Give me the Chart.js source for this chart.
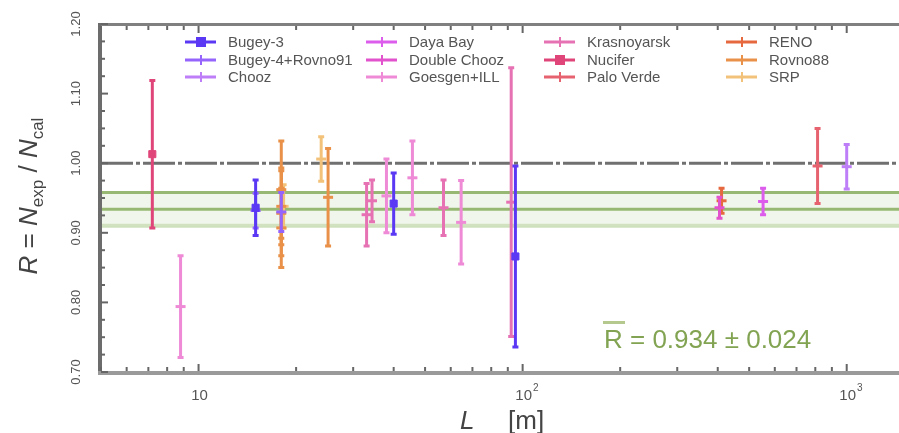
<!DOCTYPE html>
<html>
<head>
<meta charset="utf-8">
<script src="https://cdn.jsdelivr.net/npm/chart.js@4/dist/chart.umd.min.js"></script>
<style>
  html, body { margin: 0; padding: 0; background: #fff; }
</style>
</head>
<body>
<canvas id="myChart" width="899" height="433"></canvas>
<script>
// experiments in legend order (column by column)
var experiments = ["Bugey-3", "Bugey-4+Rovno91", "Chooz", "Daya Bay", "Double Chooz", "Goesgen+ILL",
  "Krasnoyarsk", "Nucifer", "Palo Verde", "RENO", "Rovno88", "SRP"];
var colors = ["#5a38f4", "#9464fc", "#bd7ef8", "#dc5cec", "#e252cc", "#ee8ad6",
  "#e672b4", "#e0457a", "#e6626e", "#e6683f", "#e99049", "#f3c27a"];
var markers = ["rect", "line", "line", "line", "line", "line",
  "line", "rect", "line", "line", "line", "line"];

// baseline L [m], ratio R and its error
var distances = [
  [15, 40, 95],
  [15, 18],
  [1000],
  [552],
  [405],
  [8.8, 38, 45.7, 64.6],
  [33, 34.3, 57, 92.2],
  [7.2],
  [813],
  [411],
  [18, 18, 18, 18, 25.1],
  [18.3, 23.9]
];
var ratios = [
  [0.936, 0.942, 0.866],
  [0.932, 0.930],
  [0.995],
  [0.945],
  [0.936],
  [0.794, 0.953, 0.979, 0.915],
  [0.926, 0.946, 0.936, 0.944],
  [1.013],
  [0.996],
  [0.946],
  [0.962, 0.938, 0.907, 0.928, 0.951],
  [0.938, 1.006]
];
var errors = [
  [0.040, 0.044, 0.130],
  [0.025, 0.028],
  [0.032],
  [0.019],
  [0.015],
  [0.073, 0.053, 0.053, 0.060],
  [0.045, 0.030, 0.040, 0.193],
  [0.106],
  [0.054],
  [0.018],
  [0.070, 0.055, 0.057, 0.061, 0.070],
  [0.031, 0.032]
];

var meanR = 0.934;
var meanErr = 0.024;
var refLine = 1.0;
var xMin = 5, xMax = 1450;
var yMin = 0.7, yMax = 1.2;
var yTickValues = [0.7, 0.8, 0.9, 1.0, 1.1, 1.2];
var yTickLabels = ["0.70", "0.80", "0.90", "1.00", "1.10", "1.20"];
var xTickValues = [10, 100, 1000];
var xTickBase = ["10", "10", "10"];
var xTickSup = ["", "2", "3"];

var datasets = [];
for (let i = 0; i < experiments.length; i++) {
  datasets.push({
    label: experiments[i],
    data: distances[i].map((d, j) => ({ x: d, y: ratios[i][j] })),
    errors: errors[i],
    borderColor: colors[i],
    backgroundColor: colors[i],
    pointStyle: markers[i],
    pointRadius: markers[i] == "rect" ? 5 : 5,
    pointBorderWidth: markers[i] == "rect" ? 1 : 3,
    showLine: false,
    order: 0
  });
}
// reference lines
datasets.push({
  label: "ref", data: [{ x: xMin, y: refLine }, { x: xMax, y: refLine }],
  showLine: true, pointRadius: 0, borderColor: "#707070", borderWidth: 3,
  borderDash: [32, 3, 4, 3], order: 5
});
datasets.push({
  label: "bandTop", data: [{ x: xMin, y: meanR + meanErr }, { x: xMax, y: meanR + meanErr }],
  showLine: true, pointRadius: 0, borderColor: "#96b873", borderWidth: 3,
  fill: "+1", backgroundColor: "rgba(214,228,200,0.35)", order: 6
});
datasets.push({
  label: "bandBottom", data: [{ x: xMin, y: meanR - meanErr }, { x: xMax, y: meanR - meanErr }],
  showLine: true, pointRadius: 0, borderColor: "#cfe0bd", borderWidth: 4, order: 7
});
datasets.push({
  label: "mean", data: [{ x: xMin, y: meanR }, { x: xMax, y: meanR }],
  showLine: true, pointRadius: 0, borderColor: "#96b873", borderWidth: 3, order: 4
});

// error bars drawn right before each experiment's markers
var errorBars = {
  id: "errorBars",
  beforeDatasetDraw(chart, args) {
    const ds = chart.data.datasets[args.index];
    if (!ds.errors) return;
    const ctx = chart.ctx, xs = chart.scales.x, ys = chart.scales.y;
    ctx.save();
    ctx.strokeStyle = ds.borderColor;
    ds.data.forEach((p, j) => {
      const px = xs.getPixelForValue(p.x);
      const top = ys.getPixelForValue(p.y + ds.errors[j]);
      const bot = ys.getPixelForValue(p.y - ds.errors[j]);
      ctx.lineWidth = 3;
      ctx.beginPath();
      ctx.moveTo(px, top);
      ctx.lineTo(px, bot);
      ctx.stroke();
      ctx.beginPath();
      ctx.moveTo(px - 3, top); ctx.lineTo(px + 3, top);
      ctx.moveTo(px - 3, bot); ctx.lineTo(px + 3, bot);
      ctx.stroke();
    });
    ctx.restore();
  }
};

// frame, ticks, labels, titles, legend
var decorations = {
  id: "decorations",
  afterDatasetsDraw(chart) {
    const ctx = chart.ctx, a = chart.chartArea, xs = chart.scales.x, ys = chart.scales.y;
    ctx.save();
    // axis lines
    ctx.fillStyle = "#6c6c6c";
    ctx.fillRect(a.left - 3, a.top - 1, 4, a.bottom - a.top + 2);
    ctx.fillStyle = "#808080";
    ctx.fillRect(a.left, a.top - 1, a.right - a.left, 3);
    ctx.fillStyle = "#9a9a9a";
    ctx.fillRect(a.left - 3, a.bottom - 1, a.right - a.left + 3, 4);

    // x ticks (inward, top and bottom)
    ctx.strokeStyle = "#666";
    ctx.lineWidth = 2;
    for (let e = 0; e <= 3; e++) {
      for (let m = 1; m <= 9; m++) {
        const v = m * Math.pow(10, e);
        if (v < xMin || v > xMax) continue;
        const px = xs.getPixelForValue(v);
        const len = m == 1 ? 7 : 4;
        ctx.beginPath();
        ctx.moveTo(px, a.bottom - 1); ctx.lineTo(px, a.bottom - 1 - len);
        ctx.moveTo(px, a.top + 2); ctx.lineTo(px, a.top + 2 + len);
        ctx.stroke();
      }
    }
    // y ticks
    for (let k = 0; k <= 20; k++) {
      const v = yMin + k * 0.025;
      const py = ys.getPixelForValue(v);
      const len = k % 4 == 0 ? 7 : 4;
      ctx.beginPath();
      ctx.moveTo(a.left, py); ctx.lineTo(a.left + len, py);
      ctx.stroke();
    }

    // y tick labels, rotated
    ctx.fillStyle = "#555";
    ctx.font = "13px 'Liberation Sans', Arial, sans-serif";
    ctx.textAlign = "center";
    ctx.textBaseline = "middle";
    yTickValues.forEach((v, i) => {
      const py = ys.getPixelForValue(v);
      ctx.save();
      ctx.translate(76, py);
      ctx.rotate(-Math.PI / 2);
      ctx.fillText(yTickLabels[i], 0, 0);
      ctx.restore();
    });
    // x tick labels
    xTickValues.forEach((v, i) => {
      const px = xs.getPixelForValue(v);
      ctx.font = "15px 'Liberation Sans', Arial, sans-serif";
      ctx.textAlign = "center";
      ctx.textBaseline = "alphabetic";
      ctx.fillText(xTickBase[i], px + 1, 400);
      if (xTickSup[i]) {
        const w = ctx.measureText(xTickBase[i]).width;
        ctx.font = "10px 'Liberation Sans', Arial, sans-serif";
        ctx.textAlign = "left";
        ctx.fillText(xTickSup[i], px + 1 + w / 2 + 1, 391);
      }
    });

    // x title
    ctx.fillStyle = "#444";
    ctx.textAlign = "left";
    ctx.textBaseline = "alphabetic";
    ctx.font = "italic 26px 'Liberation Sans', Arial, sans-serif";
    ctx.fillText("L", 460, 429);
    ctx.font = "26px 'Liberation Sans', Arial, sans-serif";
    ctx.fillText("[m]", 508, 429);

    // y title: R = N_exp / N_cal
    ctx.save();
    ctx.translate(37, 196);
    ctx.rotate(-Math.PI / 2);
    const big = "26px 'Liberation Sans', Arial, sans-serif";
    const bigI = "italic 26px 'Liberation Sans', Arial, sans-serif";
    const small = "17px 'Liberation Sans', Arial, sans-serif";
    const parts = [[bigI, "R", 0], [big, " = ", 0], [bigI, "N", 0], [small, "exp", 6],
      [big, " / ", 0], [bigI, "N", 0], [small, "cal", 6]];
    let total = 0;
    parts.forEach(p => { ctx.font = p[0]; total += ctx.measureText(p[1]).width; });
    let cx = -total / 2;
    parts.forEach(p => {
      ctx.font = p[0];
      ctx.fillText(p[1], cx, p[2]);
      cx += ctx.measureText(p[1]).width;
    });
    ctx.restore();

    // mean value text
    ctx.fillStyle = "#82a452";
    ctx.font = "26px 'Liberation Sans', Arial, sans-serif";
    ctx.fillText("R = " + meanR.toFixed(3) + " \u00b1 " + meanErr.toFixed(3), 604, 348);
    ctx.fillStyle = "#b5c98f";
    ctx.fillRect(603, 321, 22, 3);

    // legend, 4 columns x 3 rows
    const colX = [185, 366, 544, 726];
    const rowY = [42, 60, 77];
    ctx.font = "15px 'Liberation Sans', Arial, sans-serif";
    ctx.textBaseline = "middle";
    experiments.forEach((name, i) => {
      const c = Math.floor(i / 3), r = i % 3;
      const x0 = colX[c], y0 = rowY[r];
      ctx.strokeStyle = colors[i];
      ctx.fillStyle = colors[i];
      ctx.lineWidth = 3;
      ctx.beginPath();
      ctx.moveTo(x0, y0); ctx.lineTo(x0 + 31, y0);
      ctx.stroke();
      if (markers[i] == "rect") {
        ctx.fillRect(x0 + 11, y0 - 5, 10, 10);
      } else {
        ctx.lineWidth = 2;
        ctx.beginPath();
        ctx.moveTo(x0 + 16, y0 - 5); ctx.lineTo(x0 + 16, y0 + 5);
        ctx.stroke();
      }
      ctx.fillStyle = "#555";
      ctx.fillText(name, x0 + 43, y0 + 1);
    });
    ctx.restore();
  }
};

new Chart(document.getElementById("myChart").getContext("2d"), {
  type: "scatter",
  data: { datasets: datasets },
  options: {
    responsive: false,
    animation: false,
    layout: { autoPadding: false, padding: { left: 101, top: 24, right: 0, bottom: 61 } },
    scales: {
      x: { type: "logarithmic", min: xMin, max: xMax, display: false },
      y: { type: "linear", min: yMin, max: yMax, display: false }
    },
    plugins: {
      legend: { display: false },
      tooltip: { enabled: false }
    }
  },
  plugins: [errorBars, decorations]
});
</script>
</body>
</html>
